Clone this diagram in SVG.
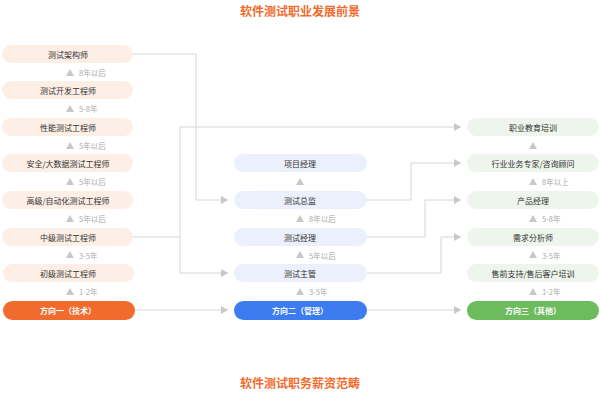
<svg xmlns="http://www.w3.org/2000/svg" width="600" height="400" viewBox="0 0 600 400">
<defs>
<marker id="ar" markerWidth="8" markerHeight="8" refX="7" refY="4" orient="auto" markerUnits="userSpaceOnUse"><path d="M0,0 L7,4 L0,8 z" fill="#c8c8c8"/></marker>
<style>
text{font-family:"Noto Sans CJK SC","Noto Sans",sans-serif;text-anchor:middle;dominant-baseline:central}
.n{font-size:8px;fill:#333}
.w{font-size:8px;fill:#fff;font-weight:bold}
.l{font-size:7.5px;fill:#aaa;text-anchor:start}
.t{font-size:12px;fill:#f26b2e;font-weight:bold}
.a{fill:#fdeee6}.b{fill:#ebf0fc}.c{fill:#eef5ec}
.tri{fill:#c8c8c8}
.k{fill:none;stroke:#d6d6d6;stroke-width:1}
</style>
</defs>
<rect width="600" height="400" fill="#fff"/>
<text class="t" x="300" y="10">软件测试职业发展前景</text>
<text class="t" x="300" y="382">软件测试职务薪资范畴</text>
<g id="connectors">
<path class="k" d="M133,54 H196 V200 H228" marker-end="url(#ar)"/>
<path class="k" d="M133,237 H180 V127 H461" marker-end="url(#ar)"/>
<path class="k" d="M180,237 V273 H228" marker-end="url(#ar)"/>
<path class="k" d="M135,310 H228" marker-end="url(#ar)"/>
<path class="k" d="M367,200 H411 V163 H461" marker-end="url(#ar)"/>
<path class="k" d="M367,237 H425 V200 H461" marker-end="url(#ar)"/>
<path class="k" d="M367,273 H441 V237 H461" marker-end="url(#ar)"/>
<path class="k" d="M367,310 H461" marker-end="url(#ar)"/>
</g>
<g id="col1">
<g id="n1"><rect class="a" x="2" y="45" width="131" height="18" rx="9"/><text class="n" x="68" y="54">测试架构师</text></g>
<g id="n2"><rect class="a" x="2" y="81" width="131" height="18" rx="9"/><text class="n" x="68" y="90">测试开发工程师</text></g>
<g id="n3"><rect class="a" x="2" y="118" width="131" height="18" rx="9"/><text class="n" x="68" y="127">性能测试工程师</text></g>
<g id="n4"><rect class="a" x="2" y="154" width="131" height="18" rx="9"/><text class="n" x="68" y="163">安全/大数据测试工程师</text></g>
<g id="n5"><rect class="a" x="2" y="191" width="131" height="18" rx="9"/><text class="n" x="68" y="200">高级/自动化测试工程师</text></g>
<g id="n6"><rect class="a" x="2" y="228" width="131" height="18" rx="9"/><text class="n" x="68" y="237">中级测试工程师</text></g>
<g id="n7"><rect class="a" x="3" y="264" width="131" height="18" rx="9"/><text class="n" x="68" y="273">初级测试工程师</text></g>
<g id="n8"><rect fill="#f26b2e" x="3" y="301" width="132" height="19" rx="9.5"/><text class="w" x="68" y="310">方向一（技术）</text></g>
<path class="tri" d="M66,76 L70,69 L74,76z M66,112 L70,105 L74,112z M66,149 L70,142 L74,149z M66,185 L70,178 L74,185z M66,222 L70,215 L74,222z M66,258 L70,251 L74,258z M66,295 L70,288 L74,295z"/>
<text class="l" x="79" y="72">8年以后</text>
<text class="l" x="79" y="108">5-8年</text>
<text class="l" x="79" y="145">5年以后</text>
<text class="l" x="79" y="181">5年以后</text>
<text class="l" x="79" y="218">5年以后</text>
<text class="l" x="79" y="255">3-5年</text>
<text class="l" x="79" y="291">1-2年</text>
</g>
<g id="col2">
<g id="m1"><rect class="b" x="234" y="154" width="133" height="18" rx="9"/><text class="n" x="300" y="163">项目经理</text></g>
<g id="m2"><rect class="b" x="234" y="191" width="133" height="18" rx="9"/><text class="n" x="300" y="200">测试总监</text></g>
<g id="m3"><rect class="b" x="234" y="228" width="133" height="18" rx="9"/><text class="n" x="300" y="237">测试经理</text></g>
<g id="m4"><rect class="b" x="234" y="264" width="133" height="18" rx="9"/><text class="n" x="300" y="273">测试主管</text></g>
<g id="m5"><rect fill="#3d7cf0" x="234" y="301" width="133" height="19" rx="9.5"/><text class="w" x="300" y="310">方向二（管理）</text></g>
<path class="tri" d="M296,185 L300,178 L304,185z M296,222 L300,215 L304,222z M296,258 L300,251 L304,258z M296,295 L300,288 L304,295z"/>
<text class="l" x="309" y="218">8年以后</text>
<text class="l" x="309" y="255">5年以后</text>
<text class="l" x="309" y="291">3-5年</text>
</g>
<g id="col3">
<g id="r1"><rect class="c" x="467" y="118" width="132" height="18" rx="9"/><text class="n" x="533" y="127">职业教育培训</text></g>
<g id="r2"><rect class="c" x="467" y="154" width="132" height="18" rx="9"/><text class="n" x="533" y="163">行业业务专家/咨询顾问</text></g>
<g id="r3"><rect class="c" x="467" y="191" width="132" height="18" rx="9"/><text class="n" x="533" y="200">产品经理</text></g>
<g id="r4"><rect class="c" x="467" y="228" width="132" height="18" rx="9"/><text class="n" x="533" y="237">需求分析师</text></g>
<g id="r5"><rect class="c" x="467" y="264" width="132" height="18" rx="9"/><text class="n" x="533" y="273">售前支持/售后客户培训</text></g>
<g id="r6"><rect fill="#6cbb5c" x="467" y="301" width="132" height="19" rx="9.5"/><text class="w" x="533" y="310">方向三（其他）</text></g>
<path class="tri" d="M529,149 L533,142 L537,149z M529,185 L533,178 L537,185z M529,222 L533,215 L537,222z M529,258 L533,251 L537,258z M529,295 L533,288 L537,295z"/>
<text class="l" x="542" y="181">8年以上</text>
<text class="l" x="542" y="218">5-8年</text>
<text class="l" x="542" y="255">3-5年</text>
<text class="l" x="542" y="291">1-2年</text>
</g>
</svg>
